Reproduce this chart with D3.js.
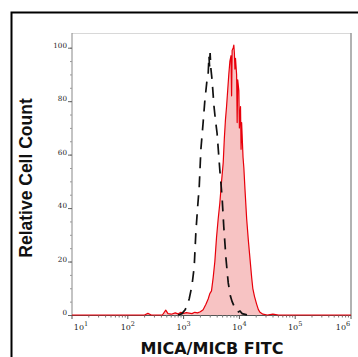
<!DOCTYPE html>
<html>
<head>
<meta charset="utf-8">
<script src="https://cdn.jsdelivr.net/npm/d3@7"></script>
<style>
  body { margin: 0; background: #fff; }
  svg { display: block; }
</style>
</head>
<body>
<div id="chart"></div>
<script>
// sample histogram (MICA/MICB FITC), log10 of intensity and relative count
var sampleLog = [1.0, 2.3, 2.36, 2.42, 2.62, 2.68, 2.72, 2.78, 2.85, 2.9, 2.95, 3.0, 3.05, 3.1, 3.15, 3.2, 3.25, 3.3,
    3.35, 3.4, 3.44, 3.47, 3.5, 3.53, 3.56, 3.59, 3.62, 3.65, 3.68, 3.71, 3.73, 3.75, 3.77, 3.79, 3.81, 3.83,
    3.85, 3.86, 3.87, 3.89, 3.9, 3.91, 3.92, 3.93, 3.95, 3.96, 3.97, 3.99, 4.0, 4.02, 4.03, 4.04, 4.065, 4.08,
    4.1, 4.13, 4.16, 4.19, 4.22, 4.24, 4.27, 4.31, 4.34, 4.37, 4.42, 4.5, 4.6, 4.7, 6.0];
var sampleCount = [0, 0, 0.6, 0, 0, 1.8, 0.5, 0.3, 0.8, 0.4, 1.0, 0.6, 0.9, 0.7, 0.5, 1.0, 0.8, 1.2,
    2, 4, 6, 8, 9, 14, 20, 29, 36, 42, 50, 57, 66, 73, 78, 84, 90, 95,
    97, 82, 99, 100, 101, 98, 92, 96, 90, 72, 88, 84, 70, 78, 62, 72, 59, 55,
    47, 36, 28, 21, 14, 10, 7, 4, 2, 1, 0.3, 0, 0.3, 0, 0];

// isotype control histogram
var controlLog = [2.9, 2.97, 3.03, 3.1, 3.15, 3.19, 3.22, 3.25, 3.28, 3.31, 3.35, 3.38, 3.4, 3.42, 3.44, 3.455,
    3.465, 3.475, 3.49, 3.51, 3.545, 3.57, 3.6, 3.65, 3.69, 3.72, 3.76, 3.8, 3.84, 3.87, 3.92, 3.97, 4.01, 4.05, 4.15];
var controlCount = [0, 0.5, 2, 6, 11, 18, 31, 40, 48, 62, 72, 80, 84, 88, 90, 97,
    93, 98, 92, 88, 78, 73, 68, 54, 44, 33, 21, 12, 7, 5, 2.5, 1, 1.5, 0.5, 0];

var yTicks = [0, 20, 40, 60, 80, 100];
var xDecades = [1, 2, 3, 4, 5, 6];

var width = 358, height = 357;
var svg = d3.select("#chart").append("svg")
    .attr("width", width)
    .attr("height", height);

// outer frame (top + left only visible)
svg.append("path")
    .attr("d", "M11.5,357 L11.5,12.5 L358,12.5")
    .attr("fill", "none")
    .attr("stroke", "#000")
    .attr("stroke-width", 2);

var x = d3.scaleLog().domain([10, 1e6]).range([72, 351]);
var y = d3.scaleLinear().domain([0, 105.5]).range([315, 33]);

// plot box
svg.append("line").attr("x1", 72).attr("x2", 351).attr("y1", 33.5).attr("y2", 33.5)
    .attr("stroke", "#d8d8d8").attr("stroke-width", 1);
svg.append("line").attr("x1", 351).attr("x2", 351).attr("y1", 33).attr("y2", 315)
    .attr("stroke", "#999").attr("stroke-width", 1.5);

var sample = sampleLog.map(function (d, i) { return [Math.pow(10, d), sampleCount[i]]; });
var control = controlLog.map(function (d, i) { return [Math.pow(10, d), controlCount[i]]; });

var area = d3.area()
    .x(function (d) { return x(d[0]); })
    .y0(y(0))
    .y1(function (d) { return y(d[1]); });
var line = d3.line()
    .x(function (d) { return x(d[0]); })
    .y(function (d) { return y(d[1]); });

svg.append("path").datum(sample)
    .attr("d", area)
    .attr("fill", "#f7c3c3");

// y axis
var yAxis = svg.append("g").attr("transform", "translate(72,0)");
yAxis.append("line").attr("y1", 33).attr("y2", 315).attr("stroke", "#888").attr("stroke-width", 1);
var yMinor = d3.range(0, 105, 5);
yAxis.selectAll(".ymin").data(yMinor).enter().append("line")
    .attr("x1", -2).attr("x2", 0)
    .attr("y1", function (d) { return y(d) + 0.5; })
    .attr("y2", function (d) { return y(d) + 0.5; })
    .attr("stroke", "#999");
yAxis.selectAll(".ymaj").data(yTicks).enter().append("line")
    .attr("x1", -4).attr("x2", 0)
    .attr("y1", function (d) { return y(d) + 0.5; })
    .attr("y2", function (d) { return y(d) + 0.5; })
    .attr("stroke", "#666");
yAxis.selectAll("text").data(yTicks).enter().append("text")
    .attr("x", -5)
    .attr("y", function (d) { return y(d) + 0; })
    .attr("text-anchor", "end")
    .attr("font-family", "DejaVu Serif, serif")
    .attr("font-size", 7.2)
    .attr("fill", "#222")
    .text(function (d) { return d; });

// x axis
var xAxis = svg.append("g");
xAxis.append("line").attr("x1", 72).attr("x2", 351).attr("y1", 315.5).attr("y2", 315.5)
    .attr("stroke", "#555").attr("stroke-width", 1);
var xMinor = [];
xDecades.slice(0, 5).forEach(function (k) {
    for (var m = 2; m < 10; m++) xMinor.push(m * Math.pow(10, k));
});
xAxis.selectAll(".xmin").data(xMinor).enter().append("line")
    .attr("x1", function (d) { return x(d); })
    .attr("x2", function (d) { return x(d); })
    .attr("y1", 315).attr("y2", 317.5)
    .attr("stroke", "#777");
xAxis.selectAll(".xmaj").data(xDecades).enter().append("line")
    .attr("x1", function (d) { return x(Math.pow(10, d)); })
    .attr("x2", function (d) { return x(Math.pow(10, d)); })
    .attr("y1", 315).attr("y2", 319)
    .attr("stroke", "#555");
var xLab = xAxis.selectAll(".xlab").data(xDecades).enter().append("text")
    .attr("x", function (d, i) {
        var p = x(Math.pow(10, d));
        if (i === 0) p += 9;
        if (i === xDecades.length - 1) p -= 8;
        return p;
    })
    .attr("y", 330)
    .attr("text-anchor", "middle")
    .attr("font-family", "DejaVu Serif, serif")
    .attr("font-size", 8)
    .attr("fill", "#222");
xLab.append("tspan").text("10");
xLab.append("tspan").attr("dy", -4).attr("font-size", 6.5).text(function (d) { return d; });

// curves
svg.append("path").datum(sample)
    .attr("d", line)
    .attr("fill", "none")
    .attr("stroke", "#e8000b")
    .attr("stroke-width", 1.2)
    .attr("stroke-linejoin", "round");

svg.append("path").datum(control)
    .attr("d", line)
    .attr("fill", "none")
    .attr("stroke", "#111")
    .attr("stroke-width", 1.7)
    .attr("stroke-dasharray", "11,8");

// titles
svg.append("text")
    .attr("x", 212).attr("y", 354)
    .attr("text-anchor", "middle")
    .attr("font-family", "DejaVu Sans, sans-serif")
    .attr("font-weight", "bold")
    .attr("font-size", 16)
    .attr("fill", "#111")
    .text("MICA/MICB FITC");

svg.append("text")
    .attr("transform", "translate(32,178) rotate(-90)")
    .attr("text-anchor", "middle")
    .attr("font-family", "Liberation Sans, Arial, sans-serif")
    .attr("font-weight", "bold")
    .attr("font-size", 17.5)
    .attr("fill", "#111")
    .text("Relative Cell Count");
</script>
</body>
</html>
